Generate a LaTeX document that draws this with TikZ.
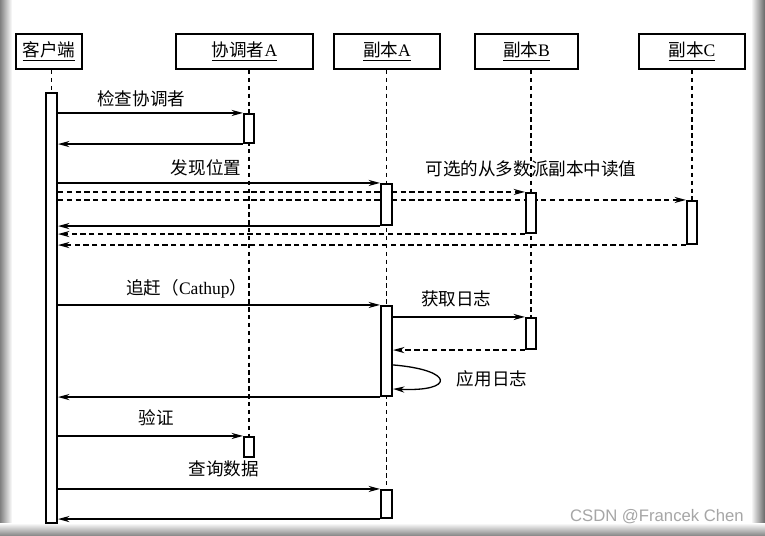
\documentclass[tikz,border=0pt]{standalone}
\usepackage{fontspec}
\setmainfont{Liberation Serif}
\setsansfont{Liberation Sans}
\newfontfamily\cjk{Noto Sans CJK SC}
\usetikzlibrary{arrows.meta,backgrounds,calc,fit}

\tikzset{
  head/.style={draw, line width=1.1pt, minimum height=0.7cm, inner sep=0pt, font=\fontsize{10}{12}\selectfont},
  bar/.style={draw, fill=white, line width=1.2pt, inner sep=0pt},
  life/.style={line width=0.6pt, dash pattern=on 2.5pt off 2pt},
  msg/.style={line width=0.75pt, -{Stealth[length=6.5pt,width=3.5pt]}},
  back/.style={dash pattern=on 3pt off 2pt},
  lbl/.style={font=\fontsize{10}{12}\selectfont\cjk},
}

\begin{document}
\begin{tikzpicture}[x=0.02cm,y=-0.02cm]
\useasboundingbox (0,0) rectangle (765,535);
% lifeline heads
\node[head, minimum width=1.32cm] (khd) at (49,51.5) {\underline{\cjk 客户端}};
\node[head, minimum width=2.74cm] (xtz) at (244.5,51.5) {\underline{{\cjk 协调者}A}};
\node[head, minimum width=2.12cm] (fbA) at (387,51.5) {\underline{{\cjk 副本}A}};
\node[head, minimum width=2.06cm] (fbB) at (526.5,51.5) {\underline{{\cjk 副本}B}};
\node[head, minimum width=2.12cm] (fbC) at (692,51.5) {\underline{{\cjk 副本}C}};
% activation bars
\node[bar, fit={(46,93) (57,523)}] (kbar) {};
\node[bar, fit={(244,114) (254,143)}] (xbar1) {};
\node[bar, fit={(244,437) (254,457)}] (xbar2) {};
\node[bar, fit={(381,184) (392,225)}] (abar1) {};
\node[bar, fit={(381,306) (392,396)}] (abar2) {};
\node[bar, fit={(381,490) (392,518)}] (abar3) {};
\node[bar, fit={(526,193) (536,233)}] (bbar1) {};
\node[bar, fit={(526,318) (536,349)}] (bbar2) {};
\node[bar, fit={(687,201) (697,244)}] (cbar1) {};

\begin{scope}[on background layer]
\fill[white] (0,0) rectangle (765,535);
\shade[left color=black!50, right color=white] (0,0) rectangle (12,535);
\shade[left color=white, right color=black!60] (751,0) rectangle (765,535);
\shade[top color=white, bottom color=black!45] (0,523) rectangle (765,535);
% lifelines
\draw[life] (kbar |- khd.south) -- (kbar.north);
\draw[life] (xbar1 |- xtz.south) -- (xbar2.north);
\draw[life] (abar1 |- fbA.south) -- (abar3.north);
\draw[life] (bbar1 |- fbB.south) -- (bbar2.north);
\draw[life] (cbar1 |- fbC.south) -- (cbar1.north);
% check coordinator
\draw[msg] (kbar.east |- xbar1.north) -- node[lbl, above, pos=0.45] (t1) {检查协调者} (xbar1.north west);
\draw[msg] (xbar1.south west) -- (kbar.east |- xbar1.south);
% find position
\draw[msg] (kbar.east |- abar1.north) -- node[lbl, above, pos=0.46] (t2) {发现位置} (abar1.north west);
\draw[msg,back] (kbar.east |- bbar1.north) -- (bbar1.north west);
\draw[msg,back] (kbar.east |- cbar1.north) -- (cbar1.north west);
\draw[msg] (abar1.south west) -- (kbar.east |- abar1.south);
\draw[msg,back] (bbar1.south west) -- (kbar.east |- bbar1.south);
\draw[msg,back] (cbar1.south west) -- (kbar.east |- cbar1.south);
\node[lbl] (t3) at (531,169) {可选的从多数派副本中读值};
% catch up
\draw[msg] (kbar.east |- abar2.north) -- node[lbl, above, pos=0.40] (t4) {追赶（{\rmfamily Cathup}）} (abar2.north west);
\draw[msg] (abar2.east |- bbar2.north) -- node[lbl, above, pos=0.48, yshift=2] (t5) {获取日志} (bbar2.north west);
\draw[msg,back] (bbar2.south west) -- (abar2.east |- bbar2.south);
\draw[msg] ($(abar2.north east)+(0,60)$) .. controls (455,370) and (455,392) .. ($(abar2.north east)+(0,84)$);
\node[lbl] (t6) at (492,379) {应用日志};
\draw[msg] (abar2.south west) -- (kbar.east |- abar2.south);
% verify
\draw[msg] (kbar.east |- xbar2.north) -- node[lbl, above, pos=0.53, yshift=2] (t7) {验证} (xbar2.north west);
% query
\draw[msg] (kbar.east |- abar3.north) -- node[lbl, above, pos=0.515, yshift=3] (t8) {查询数据} (abar3.north west);
\draw[msg] (abar3.south west) -- (kbar.east |- abar3.south);
\end{scope}

\node[text=black!35, font=\sffamily\fontsize{9.5}{11}\selectfont, anchor=east] (wm) at (750,517) {CSDN @Francek Chen};
\end{tikzpicture}
\end{document}
